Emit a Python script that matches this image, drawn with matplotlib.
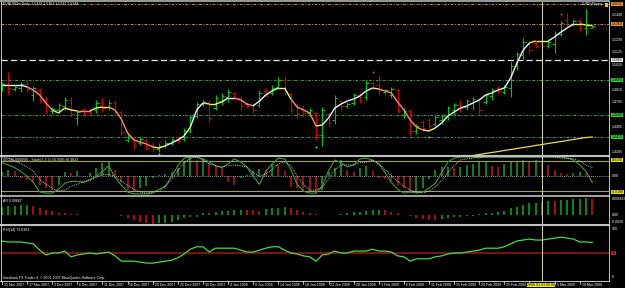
import numpy as np
import matplotlib.pyplot as plt
from matplotlib.collections import LineCollection
from matplotlib.lines import Line2D
from matplotlib.patches import Rectangle

# ---------------- data ----------------
dates = ['22 Nov 2007', '27 Nov 2007', '3 Dec 2007', '6 Dec 2007', '11 Dec 2007',
         '16 Dec 2007', '20 Dec 2007', '25 Dec 2007', '30 Dec 2007', '4 Jan 2008',
         '9 Jan 2008', '14 Jan 2008', '18 Jan 2008', '23 Jan 2008', '28 Jan 2008',
         '1 Feb 2008', '6 Feb 2008', '11 Feb 2008', '15 Feb 2008', '20 Feb 2008',
         '25 Feb 2008', '29 Feb 2008', '5 Mar 2008', '10 Mar 2008']

open_ = [1.4827, 1.4860, 1.4818, 1.4827, 1.4860, 1.4768, 1.4810, 1.4726, 1.4634, 1.4642,
         1.4676, 1.4726, 1.4575, 1.4642, 1.4634, 1.4642, 1.4701, 1.4667, 1.4701, 1.4625,
         1.4390, 1.4407, 1.4365, 1.4390, 1.4348, 1.4314, 1.4340, 1.4365, 1.4398, 1.4398,
         1.4466, 1.4592, 1.4692, 1.4709, 1.4659, 1.4718, 1.4751, 1.4785, 1.4743, 1.4692,
         1.4684, 1.4684, 1.4802, 1.4785, 1.4835, 1.4894, 1.4776, 1.4676, 1.4659, 1.4617,
         1.4617, 1.4432, 1.4608, 1.4558, 1.4718, 1.4676, 1.4701, 1.4768, 1.4751, 1.4869,
         1.4852, 1.4793, 1.4768, 1.4810, 1.4600, 1.4634, 1.4466, 1.4541, 1.4558, 1.4524,
         1.4558, 1.4583, 1.4642, 1.4692, 1.4667, 1.4701, 1.4726, 1.4709, 1.4760, 1.4827,
         1.4793, 1.4827, 1.5012, 1.5104, 1.5205, 1.5205, 1.5196, 1.5180, 1.5196, 1.5280,
         1.5398, 1.5364, 1.5390, 1.5331, 1.5329]
high = [1.4877, 1.4961, 1.4852, 1.4877, 1.4894, 1.4844, 1.4827, 1.4751, 1.4667, 1.4701,
        1.4751, 1.4751, 1.4642, 1.4659, 1.4650, 1.4726, 1.4743, 1.4726, 1.4726, 1.4642,
        1.4440, 1.4415, 1.4415, 1.4398, 1.4373, 1.4365, 1.4390, 1.4407, 1.4424, 1.4491,
        1.4600, 1.4709, 1.4726, 1.4726, 1.4768, 1.4785, 1.4818, 1.4793, 1.4760, 1.4709,
        1.4701, 1.4810, 1.4827, 1.4852, 1.4919, 1.4928, 1.4785, 1.4701, 1.4684, 1.4659,
        1.4625, 1.4667, 1.4625, 1.4768, 1.4726, 1.4709, 1.4785, 1.4785, 1.4894, 1.4877,
        1.4936, 1.4818, 1.4835, 1.4818, 1.4659, 1.4650, 1.4524, 1.4558, 1.4575, 1.4600,
        1.4608, 1.4676, 1.4701, 1.4726, 1.4734, 1.4751, 1.4743, 1.4785, 1.4827, 1.4844,
        1.4852, 1.5045, 1.5129, 1.5247, 1.5222, 1.5222, 1.5255, 1.5238, 1.5306, 1.5390,
        1.5457, 1.5406, 1.5406, 1.5490, 1.5354]
low = [1.4802, 1.4768, 1.4802, 1.4793, 1.4793, 1.4718, 1.4701, 1.4608, 1.4608, 1.4617,
       1.4642, 1.4583, 1.4516, 1.4600, 1.4608, 1.4617, 1.4625, 1.4642, 1.4600, 1.4432,
       1.4373, 1.4314, 1.4348, 1.4306, 1.4289, 1.4289, 1.4323, 1.4348, 1.4365, 1.4382,
       1.4449, 1.4575, 1.4676, 1.4541, 1.4642, 1.4684, 1.4709, 1.4726, 1.4642, 1.4659,
       1.4617, 1.4667, 1.4751, 1.4768, 1.4818, 1.4768, 1.4617, 1.4575, 1.4583, 1.4592,
       1.4390, 1.4340, 1.4499, 1.4524, 1.4642, 1.4659, 1.4684, 1.4701, 1.4726, 1.4810,
       1.4768, 1.4776, 1.4743, 1.4617, 1.4575, 1.4432, 1.4440, 1.4466, 1.4482, 1.4508,
       1.4524, 1.4558, 1.4600, 1.4625, 1.4642, 1.4642, 1.4600, 1.4692, 1.4726, 1.4785,
       1.4776, 1.4751, 1.4978, 1.5062, 1.5121, 1.5163, 1.5154, 1.5163, 1.5121, 1.5264,
       1.5331, 1.5348, 1.5306, 1.5272, 1.5327]
close = [1.4860, 1.4827, 1.4835, 1.4860, 1.4818, 1.4827, 1.4726, 1.4634, 1.4650, 1.4684,
         1.4726, 1.4608, 1.4625, 1.4617, 1.4617, 1.4701, 1.4659, 1.4701, 1.4625, 1.4457,
         1.4415, 1.4340, 1.4398, 1.4323, 1.4314, 1.4340, 1.4365, 1.4390, 1.4382, 1.4466,
         1.4583, 1.4692, 1.4709, 1.4575, 1.4743, 1.4760, 1.4793, 1.4743, 1.4676, 1.4676,
         1.4642, 1.4785, 1.4776, 1.4827, 1.4894, 1.4793, 1.4642, 1.4608, 1.4617, 1.4642,
         1.4432, 1.4642, 1.4533, 1.4743, 1.4676, 1.4692, 1.4768, 1.4726, 1.4869, 1.4827,
         1.4810, 1.4810, 1.4818, 1.4642, 1.4634, 1.4466, 1.4508, 1.4491, 1.4508, 1.4583,
         1.4592, 1.4659, 1.4684, 1.4659, 1.4718, 1.4734, 1.4642, 1.4768, 1.4810, 1.4802,
         1.4835, 1.5012, 1.5112, 1.5213, 1.5146, 1.5180, 1.5180, 1.5213, 1.5280, 1.5373,
         1.5348, 1.5390, 1.5331, 1.5364, 1.5348]

# coloured moving average and its trend state (1 up, -1 down, 0 flat)
ma = [1.4852, 1.4852, 1.4852, 1.4852, 1.4835, 1.4810, 1.4768, 1.4701, 1.4642, 1.4617,
      1.4659, 1.4642, 1.4634, 1.4634, 1.4634, 1.4659, 1.4667, 1.4667, 1.4642, 1.4566,
      1.4449, 1.4390, 1.4373, 1.4356, 1.4331, 1.4323, 1.4340, 1.4365, 1.4390, 1.4424,
      1.4499, 1.4642, 1.4701, 1.4692, 1.4692, 1.4709, 1.4743, 1.4743, 1.4726, 1.4692,
      1.4676, 1.4718, 1.4768, 1.4802, 1.4827, 1.4827, 1.4734, 1.4667, 1.4642, 1.4617,
      1.4508, 1.4516, 1.4575, 1.4659, 1.4692, 1.4718, 1.4734, 1.4760, 1.4802, 1.4827,
      1.4818, 1.4802, 1.4785, 1.4709, 1.4642, 1.4558, 1.4499, 1.4474, 1.4466, 1.4491,
      1.4533, 1.4592, 1.4625, 1.4659, 1.4676, 1.4701, 1.4726, 1.4768, 1.4785, 1.4810,
      1.4827, 1.4911, 1.5037, 1.5146, 1.5205, 1.5222, 1.5222, 1.5222, 1.5255, 1.5297,
      1.5331, 1.5364, 1.5364, 1.5356, 1.5356]
ma_trend = [1, 1, 1, 1, 1, -1, -1, -1, -1, 0,
            0, 0, 0, -1, -1, 0, 0, 0, -1, -1,
            -1, -1, -1, -1, -1, 0, 0, 1, 1, 1,
            1, 1, 1, 0, 0, 0, 1, 1, -1, -1,
            -1, 1, 1, 1, 1, 0, 0, -1, -1, -1,
            -1, 0, 1, 1, 1, 1, 1, 1, 1, 1,
            0, -1, -1, -1, -1, -1, -1, -1, 0, 0,
            1, 1, 1, 1, 1, 1, 1, 1, 1, 1,
            1, 1, 1, 1, 1, 0, 0, 0, 1, 1,
            1, 1, 0, 0, 0]

# slow MA entering from below (bars 73..94)
slow_start = 73
slow_ma = [1.4243, 1.4251, 1.4260, 1.4268, 1.4277, 1.4285, 1.4293, 1.4302, 1.4310, 1.4319,
           1.4327, 1.4335, 1.4344, 1.4352, 1.4361, 1.4369, 1.4377, 1.4386, 1.4394, 1.4403,
           1.4411, 1.4415]

frac_up_idx = [59, 89]
frac_up = [1.4961, 1.5448]
frac_dn_idx = [25, 50, 68]
frac_dn = [1.4272, 1.4331, 1.4415]

line_prices = [1.5532, 1.5364, 1.5062, 1.4894, 1.4600, 1.4415]
price_ticks = [1.5440, 1.5335, 1.5230, 1.5125, 1.5020, 1.4915, 1.4810, 1.4705,
               1.4600, 1.4495, 1.4390, 1.4285]
marker_bar = 86

osc_hist = [0.004, 0.006, 0.005, -0.002, -0.004, -0.007, -0.009, -0.012, -0.014, -0.009,
            0.004, 0.003, 0.005, -0.001, 0.003, 0.008, 0.013, 0.014, 0.006, -0.006,
            -0.014, -0.016, -0.012, -0.010, -0.002, 0.001, 0.002, 0.004, 0.008, 0.014,
            0.019, 0.016, 0.017, 0.013, 0.010, 0.008, -0.006, -0.009, -0.002, 0.001,
            0.005, 0.007, 0.006, 0.012, 0.011, 0.005, -0.011, -0.012, -0.015, -0.016,
            -0.018, -0.014, 0.004, 0.008, 0.016, 0.006, 0.004, 0.008, 0.010, 0.005,
            -0.002, -0.003, -0.005, -0.009, -0.012, -0.017, -0.017, -0.012, -0.003, 0.006,
            0.009, 0.009, 0.008, 0.009, 0.011, 0.012, 0.014, 0.014, 0.010, 0.009,
            0.012, 0.014, 0.015, 0.016, 0.014, 0.016, 0.015, 0.011, 0.006, 0.003,
            0.002, 0.003, 0.004, 0.003, -0.001]
stoch_k = [85, 79, 72, 62, 49, 33, 8, 5, 5, 15,
           31, 36, 36, 33, 41, 49, 62, 77, 46, 26,
           8, 3, 3, 3, 5, 15, 23, 49, 77, 97,
           100, 100, 95, 87, 77, 72, 82, 95, 87, 74,
           49, 28, 62, 82, 97, 95, 67, 28, 10, 5,
           5, 23, 64, 92, 85, 74, 79, 95, 97, 92,
           82, 59, 33, 15, 5, 8, 5, 8, 18, 31,
           59, 87, 97, 100, 100, 100, 98, 100, 100, 100,
           100, 100, 100, 100, 100, 100, 100, 100, 100, 100,
           97, 92, 79, 62, 33]
stoch_d = [100, 97, 90, 82, 74, 62, 41, 28, 18, 10,
           13, 23, 28, 36, 38, 46, 54, 54, 49, 36,
           26, 15, 8, 5, 8, 10, 23, 41, 64, 85,
           97, 100, 92, 82, 77, 74, 77, 79, 77, 74,
           59, 49, 56, 67, 82, 87, 77, 51, 28, 13,
           13, 21, 41, 67, 79, 79, 79, 85, 87, 92,
           82, 67, 51, 36, 23, 13, 8, 5, 10, 21,
           38, 59, 77, 92, 95, 97, 100, 100, 100, 100,
           100, 100, 100, 100, 100, 100, 100, 100, 100, 97,
           97, 95, 90, 79, 72]

ao = [0.0032, 0.0036, 0.0038, 0.0040, 0.0041, 0.0036, 0.0028, 0.0022, 0.0016, 0.0010,
      0.0007, 0.0004, 0.0003, 0.0002, 0.0001, 0.0002, 0.0001, 0.0001, 0.00004, -0.0002,
      -0.0013, -0.0020, -0.0027, -0.0033, -0.0034, -0.0033, -0.0032, -0.0027, -0.0020, -0.0013,
      -0.0009, -0.0007, 0.0007, 0.0009, 0.0013, 0.0017, 0.0018, 0.0020, 0.0021, 0.0020,
      0.0019, 0.0018, 0.0023, 0.0027, 0.0028, 0.0031, 0.0027, 0.0020, 0.0013, 0.0007,
      0.0003, 0.0002, 0.0001, 0.0002, 0.0003, 0.0007, 0.0013, 0.0014, 0.0016, 0.0020,
      0.0021, 0.0020, 0.0013, 0.0007, 0.0002, -0.0004, -0.0013, -0.0014, -0.0020, -0.0021,
      -0.0017, -0.0013, -0.0009, -0.0007, -0.0004, -0.0002, 0.0003, 0.0007, 0.0009, 0.0013,
      0.0017, 0.0027, 0.0033, 0.0040, 0.0047, 0.0049, 0.0053, 0.0057, 0.0056, 0.0060,
      0.0061, 0.0063, 0.0064, 0.0067, 0.0066]

rsi = [75, 73, 73, 73, 71, 69, 56, 46, 50, 50,
       54, 42, 46, 48, 50, 48, 50, 52, 44, 33,
       33, 33, 31, 29, 29, 31, 33, 35, 40, 48,
       58, 63, 63, 52, 60, 60, 60, 60, 56, 52,
       52, 56, 60, 63, 63, 56, 50, 48, 44, 42,
       33, 46, 48, 54, 50, 50, 54, 54, 54, 58,
       54, 54, 52, 44, 42, 33, 38, 38, 38, 42,
       44, 48, 50, 50, 52, 54, 56, 60, 60, 60,
       63, 69, 75, 77, 79, 77, 77, 79, 81, 83,
       81, 79, 73, 73, 72.03]

# ---------------- drawing ----------------
W, H = 625, 288
FS = 2.5
plt.rcParams['font.family'] = ['Liberation Sans', 'DejaVu Sans']

fig = plt.figure(figsize=(W / 100, H / 100), dpi=100, facecolor='black')


def panel(top, bottom, face='black'):
    ax = fig.add_axes([1 / W, 1 - bottom / H, 608 / W, (bottom - top) / H])
    ax.set_facecolor(face)
    ax.set_xticks([])
    ax.set_yticks([])
    for s in ax.spines.values():
        s.set_visible(False)
    ax.set_xlim(-0.16, 96.66)
    return ax


def rlabel(ax, y, text, box=None, color='white'):
    kw = {}
    if box:
        kw['bbox'] = dict(boxstyle='square,pad=0.12', fc=box, ec='none')
        color = 'black'
    ax.text(1.004, y, text, transform=ax.get_yaxis_transform(), fontsize=FS,
            color=color, ha='left', va='center', clip_on=False, **kw)


def ftext(x, y, s, **kw):
    fig.text(x / W, 1 - y / H, s, fontsize=FS, color='white', va='center', **kw)


x = np.arange(len(close))
o, hi, lo, c = map(np.array, (open_, high, low, close))
bar_col = np.where(c >= o, '#00c800', '#d00000')

# main price panel
ax1 = panel(2, 155)
ax1.set_ylim(1.4264, 1.5549)

dashdot = (0, (3, 1.5, 1, 1.5))
line_styles = [('#c8843c', dashdot, 0.7), ('#c8843c', dashdot, 0.7),
               ('#e8e8e8', (0, (5, 2.5)), 0.9), ('#3c9c3c', dashdot, 0.7),
               ('#3c9c3c', dashdot, 0.7), ('#3c9c3c', dashdot, 0.7)]
for p, (col, ls, lw) in zip(line_prices, line_styles):
    ax1.axhline(p, color=col, lw=lw, ls=ls)

ax1.vlines(x, lo, hi, colors=bar_col, lw=0.8)
ax1.hlines(o, x - 0.4, x, colors=bar_col, lw=0.8)
ax1.hlines(c, x, x + 0.4, colors=bar_col, lw=0.8)

trend_col = {1: '#e4f2ff', -1: '#ff8a70', 0: '#f2f25a'}
pts = np.column_stack([x, ma])
segs = [pts[i - 1:i + 1] for i in range(1, len(x))]
ax1.add_collection(LineCollection(segs, colors=[trend_col[t] for t in ma_trend[1:]], lw=1.0))

xs = np.arange(slow_start, slow_start + len(slow_ma))
ax1.plot(xs, slow_ma, color='#e8e040', lw=0.9)

ax1.scatter(frac_up_idx, frac_up, s=2, color='#ff3030', lw=0)
ax1.scatter(frac_dn_idx, frac_dn, s=2, color='#20ff20', lw=0)

box_cols = ['#e8962c', '#e8962c', '#f0f0f0', '#30d030', '#30d030', '#30d030']
for p, bc in zip(line_prices, box_cols):
    rlabel(ax1, p, f'{p:.4f}', box=bc)
for t in price_ticks:
    if min(abs(t - p) for p in line_prices) > 0.0033:
        rlabel(ax1, t, f'{t:.4f}')

# oscillator histogram + stochastic
ax2h = panel(157, 195)
ax2h.set_ylim(-0.0195, 0.0195)
hv = np.array(osc_hist)
hcol = ['#20a020'] + ['#20a020' if hv[i] >= hv[i - 1] else '#c01818' for i in range(1, len(hv))]
ax2h.vlines(x, 0, hv, colors=hcol, lw=1.1)

ax2 = panel(157, 195, face='none')
ax2.set_ylim(0, 100)
ax2.axhline(90, color='#a0a050', lw=0.8)
ax2.axhline(10, color='#a0a050', lw=0.8)
ax2.axhline(50, color='#c8c8c8', lw=0.6, ls=(0, (1, 1.5)))
ax2.plot(x, stoch_k, color='#3a9a3a', lw=0.8)
ax2.plot(x, stoch_d, color='#e0e0e0', lw=0.6, ls=(0, (1, 1.2)))
rlabel(ax2, 92, '0.0190', box='#e8e020')
rlabel(ax2, 50, '0.00')
rlabel(ax2, 8, '-0.0190', box='#e8e020')

# AO
ax3 = panel(197, 224)
ax3.set_ylim(-0.0036, 0.0072)
av = np.array(ao)
acol = ['#10a010'] + ['#10a010' if av[i] >= av[i - 1] else '#c81010' for i in range(1, len(av))]
ax3.vlines(x, 0, av, colors=acol, lw=1.2)
rlabel(ax3, 0.0066, '0.006667')
rlabel(ax3, 0.0, '0.00')
rlabel(ax3, -0.0028, '-0.0028')

# RSI
ax4 = panel(226, 281)
ax4.set_ylim(-8.3, 106.25)
ax4.axhline(50, color='#7a1414', lw=1.4)
ax4.plot(x, rsi, color='#44dd44', lw=0.9)
rlabel(ax4, 100, '100')
rlabel(ax4, 50, '50', box='#d02020')
rlabel(ax4, 0, '0')

for ax in (ax1, ax2, ax3, ax4):
    ax.axvline(marker_bar, color='#d8d8a8', lw=0.7)

# date axis; the label lying under the cursor date box is hidden, as in the terminal
xt = ax4.get_xaxis_transform()
for k, d in enumerate(dates):
    xi = 4 * k
    ax4.add_line(Line2D([xi, xi], [0, -0.05], transform=xt, color='white', lw=0.5, clip_on=False))
    if marker_bar - 2.5 < xi < marker_bar:
        continue
    ax4.text(xi + 0.3, -0.075, d, transform=xt, fontsize=FS, color='white',
             ha='left', va='center', clip_on=False)
ax4.text(marker_bar - 0.15, -0.075, '2008.03.03 00:00', transform=xt, fontsize=FS, color='black',
         ha='center', va='center', clip_on=False, zorder=5,
         bbox=dict(boxstyle='square,pad=0.05', fc='#f0f000', ec='none'))


# frame / separators
def fig_hline(y, color, lw):
    fig.add_artist(Line2D([0, 609 / W], [1 - y / H] * 2, color=color, lw=lw))


fig_hline(1, '#b4b4b4', 1.2)
fig_hline(156, '#c0c0c0', 1.5)
fig_hline(196, '#c0c0c0', 1.2)
fig_hline(225, '#c0c0c0', 1.5)
fig_hline(281, '#e0e0e0', 0.6)
for xv in (0.6, 609):
    fig.add_artist(Line2D([xv / W] * 2, [1 - 1 / H, 1 - 281 / H], color='#e0e0e0', lw=0.6))

# captions
ftext(3, 4.5, 'EURUSDm,Daily  1.5329 1.5354 1.5327 1.5348')
ftext(603, 4.5, 'CuffBlyPuppy', ha='right')
fig.add_artist(Rectangle((604.5 / W, 1 - 7 / H), 3.5 / W, 4.5 / H, fc='#f0c000', ec='none'))
ftext(3, 159.5, '#CCI(0.000056) - Stoch(5,3,3) 34.3095 66.9823')
ftext(3, 200.5, 'AO 0.00667')
ftext(3, 230, 'RSI(14) 72.0303')
ftext(3, 278, 'Interbank FX Trader 4, \u00a9 2001-2007 MetaQuotes Software Corp.')

fig.savefig('out.png', dpi=100, facecolor='black')
